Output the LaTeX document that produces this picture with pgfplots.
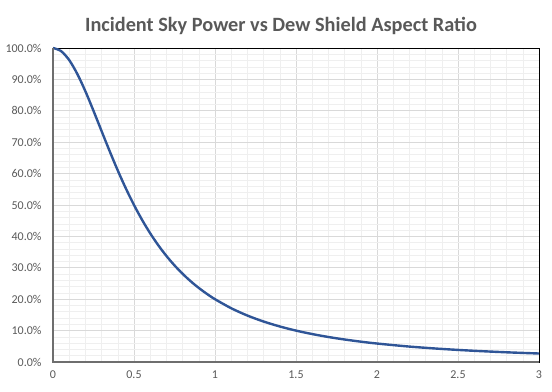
\documentclass[border=0pt]{standalone}
\usepackage{fontspec}
\setmainfont{Carlito}
\usepackage{pgfplots}
\pgfplotsset{compat=1.18}
\definecolor{txt}{HTML}{595959}
\definecolor{line}{HTML}{2F5597}
\definecolor{majg}{HTML}{D9D9D9}
\definecolor{ming}{HTML}{EFEFEF}
\definecolor{axg}{HTML}{6E6E6E}
\begin{document}
\begin{tikzpicture}
\useasboundingbox (-53bp,-30bp) rectangle (499bp,362bp);
\begin{axis}[
  at={(0,0)}, anchor=south west,
  scale only axis, width=486bp, height=314bp,
  xmin=0, xmax=3, ymin=0, ymax=1,
  xtick={0,0.5,...,3}, ytick={0,0.1,...,1},
  minor x tick num=4, minor y tick num=4,
  grid=both,
  major grid style={majg, line width=0.8bp},
  minor grid style={ming, line width=0.6bp},
  axis line style={black, line width=0.8bp},
  tick style={draw=none},
  /pgf/number format/assume math mode=true,
  xticklabel style={font=\fontsize{12bp}{14bp}\selectfont, text=txt, yshift=-5bp},
  yticklabel style={font=\fontsize{12bp}{14bp}\selectfont, text=txt, xshift=-8bp},
  yticklabel={\pgfmathparse{100*\tick}\pgfmathprintnumber[fixed,fixed zerofill,precision=1]{\pgfmathresult}\%},
  xticklabel={\pgfmathprintnumber[assume math mode=true]{\tick}},
  clip=false,
]
\addplot[line, line width=2.4bp, smooth] coordinates {
(0,1) (0.05,0.990099) (0.1,0.961538) (0.15,0.917431) (0.2,0.862069) (0.25,0.8)
(0.3,0.735294) (0.35,0.671141) (0.4,0.609756) (0.45,0.552486) (0.5,0.5)
(0.55,0.452489) (0.6,0.409836) (0.65,0.371747) (0.7,0.337838) (0.75,0.307692)
(0.8,0.280899) (0.85,0.257069) (0.9,0.235849) (0.95,0.216920) (1.0,0.2)
(1.1,0.171233) (1.2,0.147929) (1.3,0.128866) (1.4,0.113122) (1.5,0.1)
(1.6,0.088968) (1.7,0.079618) (1.8,0.071633) (1.9,0.064767) (2.0,0.058824)
(2.2,0.049116) (2.4,0.041597) (2.6,0.035663) (2.8,0.030902) (3.0,0.027027)
};
\draw[axg, line width=2bp] (axis cs:0,1) -- (axis cs:0,0) -- (axis cs:3,0);
\end{axis}
\node[font=\fontsize{20.3bp}{24bp}\selectfont\bfseries, text=txt] at (228bp,336bp) {Incident Sky Power vs Dew Shield Aspect Ratio};
\end{tikzpicture}
\end{document}
